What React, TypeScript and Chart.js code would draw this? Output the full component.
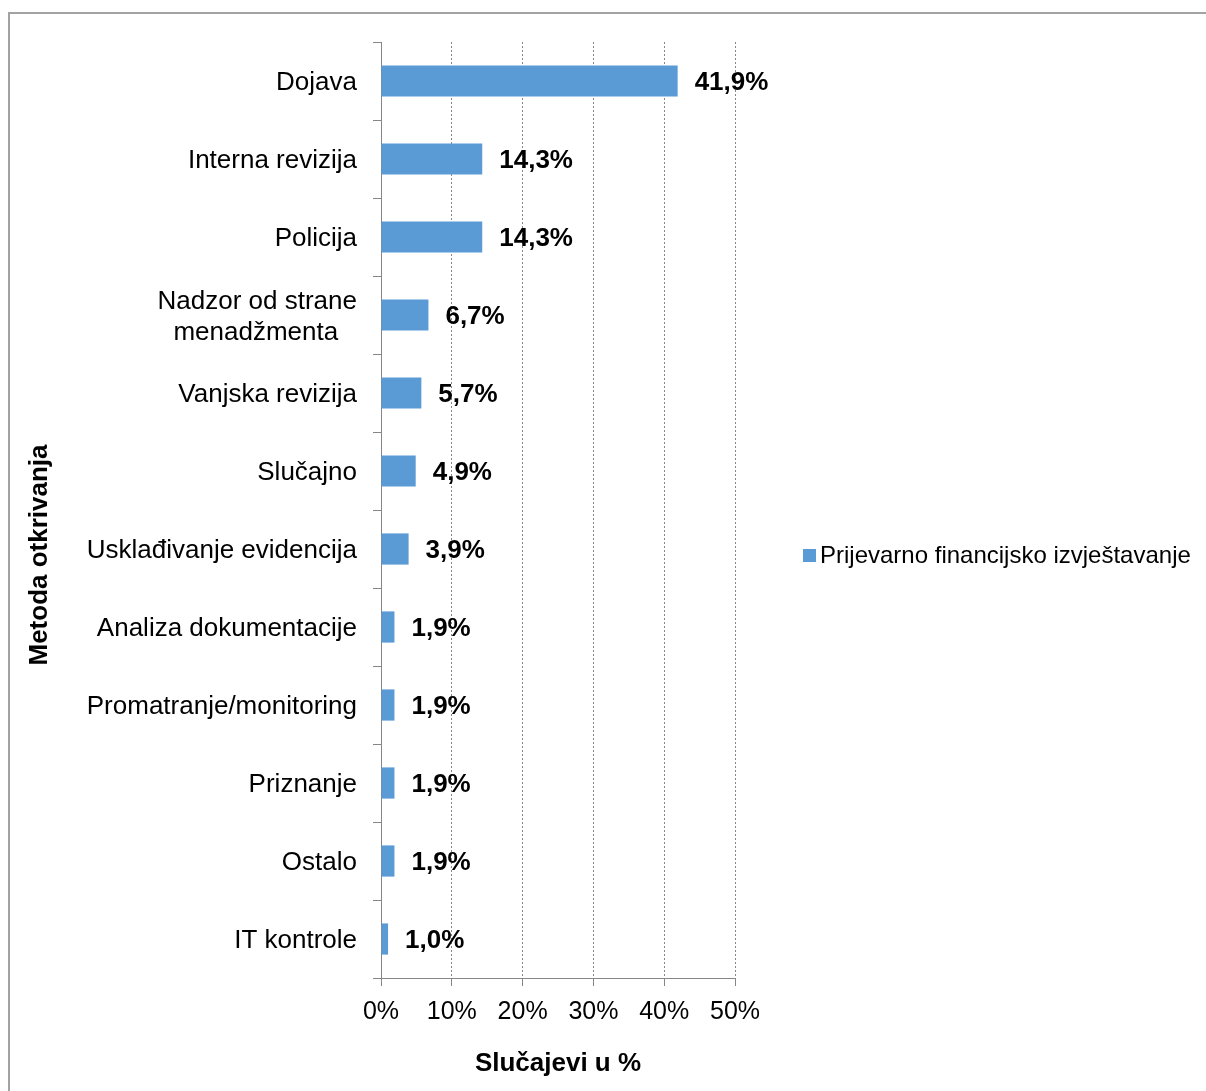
import React, { useEffect, useRef } from "react";
import { Chart, registerables } from "chart.js";

Chart.register(...registerables);

const categories: (string | string[])[] = [
  "Dojava",
  "Interna revizija",
  "Policija",
  ["Nadzor od strane", "menadžmenta\u00A0\u00A0\u2006"],
  "Vanjska revizija",
  "Slučajno",
  "Usklađivanje evidencija",
  "Analiza dokumentacije",
  "Promatranje/monitoring",
  "Priznanje",
  "Ostalo",
  "IT kontrole",
];
const seriesValues = [41.9, 14.3, 14.3, 6.7, 5.7, 4.9, 3.9, 1.9, 1.9, 1.9, 1.9, 1.0];
const seriesName = "Prijevarno financijsko izvještavanje";
const xTicks = [0, 10, 20, 30, 40, 50];
const xTitle = "Slučajevi u %";
const yTitle = "Metoda otkrivanja";

const FONT = "'Liberation Sans', Arial, sans-serif";
const BAR = "#5B9BD5";
const AXIS = "#868686";

const dataLabelPlugin = {
  id: "dataLabels",
  afterDatasetsDraw(chart: any) {
    const ctx = chart.ctx;
    const meta = chart.getDatasetMeta(0);
    ctx.save();
    ctx.font = `bold 26px ${FONT}`;
    ctx.fillStyle = "#000";
    ctx.textAlign = "left";
    ctx.textBaseline = "middle";
    meta.data.forEach((el: any, i: number) => {
      const v = seriesValues[i];
      ctx.fillText(v.toFixed(1).replace(".", ",") + "%", el.x + 17, el.y + 2);
    });
    ctx.restore();
  },
};

const legendPlugin = {
  id: "customLegend",
  afterDraw(chart: any) {
    const ctx = chart.ctx;
    ctx.save();
    ctx.fillStyle = BAR;
    ctx.fillRect(803, 549, 13, 13);
    ctx.font = `24px ${FONT}`;
    ctx.fillStyle = "#000";
    ctx.textAlign = "left";
    ctx.textBaseline = "middle";
    ctx.fillText(seriesName, 820, 556);
    // vertical axis title
    ctx.translate(40, 555);
    ctx.rotate(-Math.PI / 2);
    ctx.font = `bold 26px ${FONT}`;
    ctx.textAlign = "center";
    ctx.fillText(yTitle, 0, 0);
    ctx.restore();
  },
};

export default function App() {
  const ref = useRef<HTMLCanvasElement>(null);
  useEffect(() => {
    if (!ref.current) return;
    const chart = new Chart(ref.current, {
      type: "bar",
      data: {
        labels: categories,
        datasets: [
          {
            label: seriesName,
            data: seriesValues,
            backgroundColor: BAR,
            borderWidth: 0,
            barPercentage: 0.4,
            categoryPercentage: 1,
          },
        ],
      },
      options: {
        indexAxis: "y",
        animation: false,
        responsive: false,
        maintainAspectRatio: false,
        layout: { padding: { left: 0, top: 42, right: 471, bottom: 12 } },
        plugins: {
          legend: { display: false },
          tooltip: { enabled: false },
        },
        scales: {
          x: {
            min: 0,
            max: 50,
            afterFit: (s: any) => {
              s.height = 101;
            },
            afterBuildTicks: (s: any) => {
              s.ticks = xTicks.map((v) => ({ value: v }));
            },
            ticks: {
              callback: (v: any) => v + "%",
              font: { family: FONT, size: 25 },
              color: "#000",
              padding: 11,
              maxRotation: 0,
            },
            grid: {
              color: AXIS,
              tickLength: 8,
              tickBorderDash: [],
              lineWidth: 1,
            },
            border: { display: true, color: AXIS, dash: [2, 2], width: 1 },
            title: {
              display: true,
              text: xTitle,
              font: { family: FONT, size: 26, weight: "bold" },
              color: "#000",
              padding: { top: 0, bottom: 0 },
            },
          },
          y: {
            afterFit: (s: any) => {
              s.width = 381;
            },
            ticks: {
              font: { family: FONT, size: 26 },
              color: "#000",
              padding: 16,
              autoSkip: false,
              labelOffset: 2,
            },
            grid: {
              offset: true,
              drawOnChartArea: false,
              color: AXIS,
              tickLength: 8,
            },
            border: { display: true, color: AXIS, width: 1 },
            title: { display: false },
          },
        },
      },
      plugins: [dataLabelPlugin, legendPlugin],
    } as any);
    return () => chart.destroy();
  }, []);

  return (
    <div
      style={{
        position: "absolute",
        left: 0,
        top: 0,
        width: 1206,
        height: 1091,
        overflow: "hidden",
        background: "#fff",
      }}
    >
      <div
        style={{
          position: "absolute",
          left: 8,
          top: 12,
          width: 1400,
          height: 1300,
          border: "2px solid #a3a3a3",
          boxSizing: "border-box",
        }}
      />
      <canvas
        ref={ref}
        width={1206}
        height={1091}
        style={{ position: "absolute", left: 0, top: 0, width: 1206, height: 1091 }}
      />
    </div>
  );
}
